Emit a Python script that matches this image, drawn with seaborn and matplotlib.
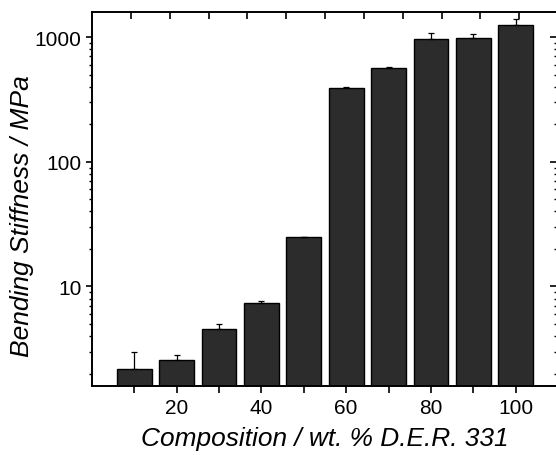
import numpy as np
import pandas as pd
import matplotlib
matplotlib.use("Agg")
import matplotlib.pyplot as plt
import matplotlib.ticker as mticker
import seaborn as sns

# ---- data ----
composition = [10, 20, 30, 40, 50, 60, 70, 80, 90, 100]
stiffness = [2.16, 2.59, 4.59, 7.41, 24.9, 391, 565, 969, 987, 1247]
err_upper = [0.84, 0.25, 0.38, 0.19, 0.0, 4, 10, 102, 70, 146]
y_ticks = [10, 100, 1000]
y_ticklabels = ["10", "100", "1000"]
x_ticks = [10, 20, 30, 40, 50, 60, 70, 80, 90, 100]
x_ticklabels = ["", "20", "", "40", "", "60", "", "80", "", "100"]
top_ticks = [10, 20, 30, 40, 50, 60, 70, 80, 90, 100, 110]

sns.set_theme(style="white")
plt.rcParams['font.family'] = ['Liberation Sans', 'DejaVu Sans']

df = pd.DataFrame({"comp": composition, "stiff": stiffness})

fig = plt.figure(figsize=(5.56, 4.56), dpi=100)
ax = fig.add_axes([92/556, 69.3/456, 466/556, 374/456])

sns.barplot(data=df, x="comp", y="stiff", native_scale=True, width=0.82,
            color="#2c2c2c", edgecolor="black", linewidth=1.0,
            saturation=1, errorbar=None, ax=ax)
ax.set_yscale("log")
ax.errorbar(composition, stiffness, yerr=[np.zeros(len(err_upper)), err_upper],
            fmt="none", ecolor="black", elinewidth=0.9, capsize=2.5, capthick=0.9)

ax.set_xlim(0, 110)
ax.set_ylim(1.6, 1600)

ax.set_yticks(y_ticks)
ax.set_yticklabels(y_ticklabels)
ax.yaxis.set_minor_locator(mticker.LogLocator(base=10, subs=np.arange(2, 10)))
ax.yaxis.set_minor_formatter(mticker.NullFormatter())
ax.set_xticks(x_ticks)
ax.set_xticklabels(x_ticklabels)

for s in ax.spines.values():
    s.set_color("black")
    s.set_linewidth(1.4)

ax.tick_params(axis="y", which="major", direction="out", length=4.5, width=1.2,
               labelsize=15, pad=3, colors="black", left=True, right=False)
ax.tick_params(axis="y", which="minor", direction="out", length=2.2, width=1.0,
               colors="black", left=True, right=False)
ax.tick_params(axis="x", which="major", direction="out", length=5, width=1.2,
               labelsize=15, pad=4, colors="black", bottom=True, top=False)

# right mirror axis (inward ticks)
axr = ax.twinx()
axr.set_yscale("log")
axr.set_ylim(ax.get_ylim())
axr.set_yticks(y_ticks)
axr.yaxis.set_minor_locator(mticker.LogLocator(base=10, subs=np.arange(2, 10)))
axr.yaxis.set_major_formatter(mticker.NullFormatter())
axr.yaxis.set_minor_formatter(mticker.NullFormatter())
axr.tick_params(axis="y", which="major", direction="in", length=6, width=1.2,
                colors="black", right=True)
axr.tick_params(axis="y", which="minor", direction="in", length=3, width=1.0,
                colors="black", right=True)
for s in axr.spines.values():
    s.set_visible(False)

# top mirror axis (inward ticks, different scale)
axt = ax.twiny()
axt.set_xlim(0, 120)
axt.set_xticks(top_ticks)
axt.xaxis.set_major_formatter(mticker.NullFormatter())
axt.tick_params(axis="x", direction="in", length=5, width=1.2, colors="black", top=True)
for s in axt.spines.values():
    s.set_visible(False)

ax.set_xlabel("Composition / wt. % D.E.R. 331", fontsize=18.9, style="italic",
              color="black", labelpad=6)
ax.set_ylabel("Bending Stiffness / MPa", fontsize=19, style="italic", color="black")
ax.yaxis.set_label_coords(-0.124, 0.455)

fig.savefig("out.png", dpi=100)
